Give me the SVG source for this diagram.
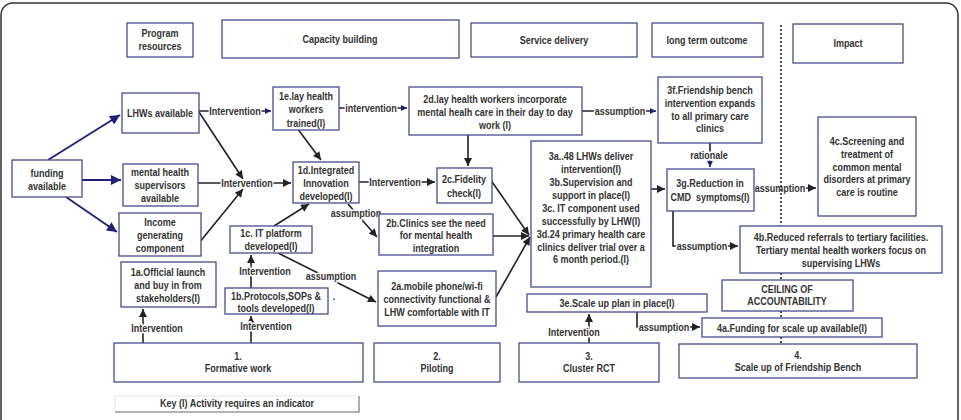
<svg xmlns="http://www.w3.org/2000/svg" width="961" height="420" viewBox="0 0 961 420">
<style>
.n rect{fill:#fff;stroke:#4b4b8f;stroke-width:1.3}
text{font-family:"Liberation Sans",Arial,sans-serif;font-weight:bold;font-size:11px;fill:#333;text-anchor:middle}
.lbl{stroke:#fff;stroke-width:3;paint-order:stroke}
.c path{fill:none;stroke:#222;stroke-width:1.6}
.c path.b{stroke:#1f1f7a;stroke-width:1.8}
.c path.dot{stroke:#222;stroke-width:1.6;stroke-dasharray:2 2}
</style>
<defs>
<marker id="ak" viewBox="0 0 10 10" refX="10" refY="5" markerWidth="9" markerHeight="8" markerUnits="userSpaceOnUse" orient="auto"><path d="M0,0L10,5L0,10z" fill="#222"/></marker>
<marker id="ab" viewBox="0 0 10 10" refX="10" refY="5" markerWidth="12" markerHeight="10" markerUnits="userSpaceOnUse" orient="auto"><path d="M0,0L10,5L0,10z" fill="#1f1f7a"/></marker>
<marker id="as" viewBox="0 0 10 10" refX="10" refY="5" markerWidth="8" markerHeight="6" markerUnits="userSpaceOnUse" orient="auto"><path d="M0,0L10,5L0,10z" fill="#1f1f7a"/></marker>
</defs>
<rect x="0" y="0" width="961" height="420" fill="#fff"/>
<rect x="1" y="3" width="957" height="440" rx="12" fill="none" stroke="#333" stroke-width="1.5"/>

<g id="key">
<path d="M115,412H359V396" fill="none" stroke="#999" stroke-width="1.6"/>
<path d="M115,412V396H359" fill="none" stroke="#e4e4e4" stroke-width="1"/>
<text transform="translate(237,407) scale(.82,1)">Key (I) Activity requires an indicator</text>
</g>

<g class="c" id="connectors">
<path class="b" d="M48,160L120,115" marker-end="url(#ab)"/>
<path class="b" d="M82,180L121,180" marker-end="url(#ab)"/>
<path class="b" d="M66,197L117,232" marker-end="url(#ab)"/>
<path d="M199,112L243,179" marker-end="url(#ak)"/>
<path d="M199,243L243,189" marker-end="url(#ak)"/>
<path d="M198,183L291,183" marker-end="url(#ak)"/>
<path d="M199,111L271,111" marker-end="url(#as)"/>
<path d="M297,128L321,160" marker-end="url(#ak)"/>
<path d="M339,108L407,108" marker-end="url(#as)"/>
<path d="M582,111L656,111" marker-end="url(#as)"/>
<path d="M468,135L468,166" marker-end="url(#ak)"/>
<path d="M359,182L435,182" marker-end="url(#ak)"/>
<path d="M348,204L377,237" marker-end="url(#ak)"/>
<path d="M274,226L309,204" marker-end="url(#ak)"/>
<path d="M278,253L376,302" marker-end="url(#ak)"/>
<path d="M251,288L251,255" marker-end="url(#ak)"/>
<path d="M143,343L143,309" marker-end="url(#ak)"/>
<path d="M251,343L251,316" marker-end="url(#ak)"/>
<path d="M488,176L529,235" marker-end="url(#ak)"/>
<path d="M493,236L529,236" marker-end="url(#ak)"/>
<path d="M496,297L530,237" marker-end="url(#ak)"/>
<path d="M651,189L665,189" marker-end="url(#ak)"/>
<path d="M710,143L710,167" marker-end="url(#as)"/>
<path d="M754,188L816,188" marker-end="url(#ak)"/>
<path d="M673,211L673,246L738,246" marker-end="url(#ak)"/>
<path d="M589,343L589,314" marker-end="url(#ak)"/>
<path d="M637,312L637,327L700,327" marker-end="url(#ak)"/>
<text class="lbl" transform="translate(247,187) scale(.82,1)">Intervention</text>
<text class="lbl" transform="translate(235,115) scale(.82,1)">Intervention</text>
<text class="lbl" transform="translate(371,112) scale(.82,1)">intervention</text>
<text class="lbl" transform="translate(620,115) scale(.82,1)">assumption</text>
<text class="lbl" transform="translate(395,186) scale(.82,1)">Intervention</text>
<text class="lbl" transform="translate(356,217) scale(.82,1)">assumption</text>
<text class="lbl" transform="translate(331,280) scale(.82,1)">assumption</text>
<text class="lbl" transform="translate(265,275) scale(.82,1)">Intervention</text>
<text class="lbl" transform="translate(157,332) scale(.82,1)">Intervention</text>
<text class="lbl" transform="translate(266,330) scale(.82,1)">Intervention</text>
<text class="lbl" transform="translate(709,159) scale(.82,1)">rationale</text>
<text class="lbl" transform="translate(780,192) scale(.82,1)">assumption</text>
<text class="lbl" transform="translate(702,250) scale(.82,1)">assumption</text>
<text class="lbl" transform="translate(574,336) scale(.82,1)">Intervention</text>
<text class="lbl" transform="translate(664,331) scale(.82,1)">assumption</text>
<text transform="translate(334,300) scale(.82,1)">.</text>
<path class="dot" d="M781,25V226M781,273V280M781,311V318M781,337V344"/>
</g>

<g class="n" id="h-program"><rect x="127" y="23" width="66" height="34"/><text transform="translate(160,37) scale(.82,1)">Program</text><text transform="translate(160,50) scale(.82,1)">resources</text></g>
<g class="n" id="h-capacity"><rect x="222" y="20" width="237" height="38"/><text transform="translate(340,43) scale(.82,1)">Capacity building</text></g>
<g class="n" id="h-service"><rect x="471" y="23" width="166" height="34"/><text transform="translate(554,44) scale(.82,1)">Service delivery</text></g>
<g class="n" id="h-longterm"><rect x="652" y="23" width="111" height="34"/><text transform="translate(707,44) scale(.82,1)">long term outcome</text></g>
<g class="n" id="h-impact"><rect x="793" y="24" width="110" height="39"/><text transform="translate(848,47) scale(.82,1)">Impact</text></g>

<g class="n" id="funding"><rect x="12" y="160" width="70" height="37"/><text transform="translate(47,177) scale(.82,1)">funding</text><text transform="translate(47,190) scale(.82,1)">available</text></g>
<g class="n" id="lhws"><rect x="122" y="93" width="77" height="40"/><text transform="translate(160,117) scale(.82,1)">LHWs available</text></g>
<g class="n" id="mhs"><rect x="123" y="164" width="75" height="42"/><text transform="translate(160,176) scale(.82,1)">mental health</text><text transform="translate(160,189) scale(.82,1)">supervisors</text><text transform="translate(160,202) scale(.82,1)">available</text></g>
<g class="n" id="income"><rect x="119" y="213" width="82" height="43"/><text transform="translate(160,226) scale(.82,1)">Income</text><text transform="translate(160,239) scale(.82,1)">generating</text><text transform="translate(160,252) scale(.82,1)">component</text></g>
<g class="n" id="n1a"><rect x="121" y="262" width="95" height="45"/><text transform="translate(168,276) scale(.82,1)">1a.Official launch</text><text transform="translate(168,289) scale(.82,1)">and buy in from</text><text transform="translate(168,302) scale(.82,1)">stakeholders(I)</text></g>
<g class="n" id="n1b"><rect x="225" y="288" width="103" height="26"/><text transform="translate(276,300) scale(.82,1)">1b.Protocols,SOPs &amp;</text><text transform="translate(276,312) scale(.82,1)">tools developed(I)</text></g>
<g class="n" id="n1c"><rect x="230" y="226" width="82" height="27"/><text transform="translate(271,237) scale(.82,1)">1c. IT platform</text><text transform="translate(271,250) scale(.82,1)">developed(I)</text></g>
<g class="n" id="n1d"><rect x="293" y="162" width="66" height="41"/><text transform="translate(326,174) scale(.82,1)">1d.Integrated</text><text transform="translate(326,187) scale(.82,1)">Innovation</text><text transform="translate(326,200) scale(.82,1)">developed(I)</text></g>
<g class="n" id="n1e"><rect x="273" y="87" width="66" height="43"/><text transform="translate(306,100) scale(.82,1)">1e.lay health</text><text transform="translate(306,113) scale(.82,1)">workers</text><text transform="translate(306,127) scale(.82,1)">trained(I)</text></g>
<g class="n" id="n2a"><rect x="378" y="271" width="118" height="55"/><text transform="translate(437,290) scale(.82,1)">2a.mobile phone/wi-fi</text><text transform="translate(437,303) scale(.82,1)">connectivity functional &amp;</text><text transform="translate(437,316) scale(.82,1)">LHW comfortable with IT</text></g>
<g class="n" id="n2b"><rect x="379" y="214" width="114" height="41"/><text transform="translate(436,227) scale(.82,1)">2b.Clinics see the need</text><text transform="translate(436,239) scale(.82,1)">for mental health</text><text transform="translate(436,252) scale(.82,1)">integration</text></g>
<g class="n" id="n2c"><rect x="437" y="168" width="55" height="35"/><text transform="translate(464,183) scale(.82,1)">2c.Fidelity</text><text transform="translate(464,197) scale(.82,1)">check(I)</text></g>
<g class="n" id="n2d"><rect x="409" y="87" width="173" height="48"/><text transform="translate(495,103) scale(.82,1)">2d.lay health workers incorporate</text><text transform="translate(495,116) scale(.82,1)">mental healh care in their day to day</text><text transform="translate(495,129) scale(.82,1)">work (I)</text></g>
<g class="n" id="n3a"><rect x="531" y="141" width="120" height="146"/><text transform="translate(591,160) scale(.82,1)">3a..48 LHWs deliver</text><text transform="translate(591,173) scale(.82,1)">intervention(I)</text><text transform="translate(591,186) scale(.82,1)">3b.Supervision and</text><text transform="translate(591,199) scale(.82,1)">support in place(I)</text><text transform="translate(591,212) scale(.82,1)">3c. IT component used</text><text transform="translate(591,225) scale(.82,1)">successfully by LHW(I)</text><text transform="translate(591,238) scale(.82,1)">3d.24 primary health care</text><text transform="translate(591,251) scale(.82,1)">clinics deliver trial over a</text><text transform="translate(591,263) scale(.82,1)">6 month period.(I)</text></g>
<g class="n" id="n3e"><rect x="527" y="294" width="180" height="18"/><text transform="translate(617,307) scale(.82,1)">3e.Scale up plan in place(I)</text></g>
<g class="n" id="n3f"><rect x="658" y="77" width="104" height="66"/><text transform="translate(710,94) scale(.82,1)">3f.Friendship bench</text><text transform="translate(710,107) scale(.82,1)">intervention expands</text><text transform="translate(710,120) scale(.82,1)">to all primary care</text><text transform="translate(710,132) scale(.82,1)">clinics</text></g>
<g class="n" id="n3g"><rect x="667" y="169" width="87" height="42"/><text transform="translate(710,187) scale(.82,1)">3g.Reduction in</text><text transform="translate(710,201) scale(.82,1)" xml:space="preserve">CMD  symptoms(I)</text></g>
<g class="n" id="n4a"><rect x="702" y="318" width="180" height="19"/><text transform="translate(792,332) scale(.82,1)">4a.Funding for scale up available(I)</text></g>
<g class="n" id="n4b"><rect x="740" y="226" width="202" height="47"/><text transform="translate(841,241) scale(.82,1)">4b.Reduced referrals to tertiary facilities.</text><text transform="translate(841,254) scale(.82,1)">Tertiary mental health workers focus on</text><text transform="translate(841,267) scale(.82,1)">supervising LHWs</text></g>
<g class="n" id="n4c"><rect x="818" y="117" width="98" height="99"/><text transform="translate(867,145) scale(.82,1)">4c.Screening and</text><text transform="translate(867,158) scale(.82,1)">treatment of</text><text transform="translate(867,171) scale(.82,1)">common mental</text><text transform="translate(867,183) scale(.82,1)">disorders at primary</text><text transform="translate(867,196) scale(.82,1)">care is routine</text></g>
<g class="n" id="ceiling"><rect x="722" y="280" width="131" height="31"/><text transform="translate(787,293) scale(.82,1)">CEILING OF</text><text transform="translate(787,305) scale(.82,1)">ACCOUNTABILITY</text></g>
<g class="n" id="s1"><rect x="114" y="343" width="249" height="39"/><text transform="translate(238,360) scale(.82,1)">1.</text><text transform="translate(238,372) scale(.82,1)">Formative work</text></g>
<g class="n" id="s2"><rect x="374" y="343" width="126" height="39"/><text transform="translate(437,360) scale(.82,1)">2.</text><text transform="translate(437,372) scale(.82,1)">Piloting</text></g>
<g class="n" id="s3"><rect x="519" y="343" width="140" height="39"/><text transform="translate(589,360) scale(.82,1)">3.</text><text transform="translate(589,372) scale(.82,1)">Cluster RCT</text></g>
<g class="n" id="s4"><rect x="679" y="344" width="238" height="34"/><text transform="translate(798,359) scale(.82,1)">4.</text><text transform="translate(798,371) scale(.82,1)">Scale up of Friendship Bench</text></g>
</svg>
